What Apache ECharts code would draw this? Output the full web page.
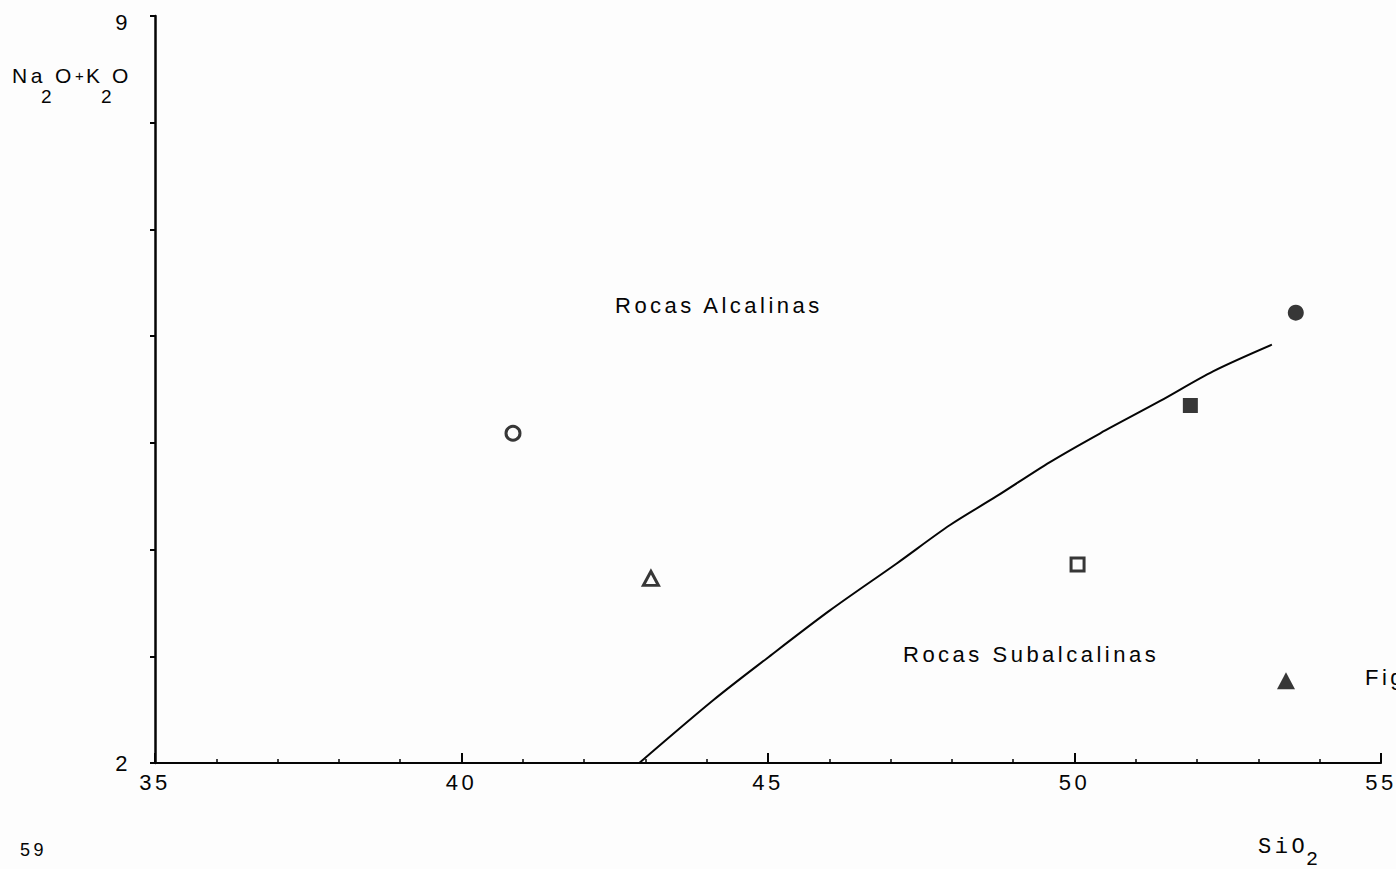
<!DOCTYPE html>
<html>
<head>
<meta charset="utf-8">
<script src="https://cdn.jsdelivr.net/npm/echarts@6/dist/echarts.min.js"></script>
<style>
  html, body { margin: 0; padding: 0; background: #fdfdfd; }
  #chart { width: 1396px; height: 869px; }
  /* wide plotter-style lettering */
  #chart svg text { letter-spacing: 3.5px; }
</style>
</head>
<body>
<div id="chart"></div>
<script>
// SiO2 (wt %) axis
const xMin = 35, xMax = 55, xMajorStep = 5;
// Na2O+K2O (wt %) axis; only the two ends are labelled
const yMin = 2, yMax = 9, yStep = 1;
const yLabelValues = [2, 9];

// Alkaline / subalkaline dividing curve
const curveSiO2 = [42.90, 44.11, 44.98, 46.01, 47.10, 47.97, 48.73, 49.60, 50.42, 51.39, 52.26, 53.22];
const curveAlk  = [2.00, 2.59, 2.98, 3.43, 3.87, 4.23, 4.50, 4.82, 5.09, 5.39, 5.67, 5.92];

// Analysed samples
const sampleSiO2 = [40.84, 43.09, 50.05, 51.89, 53.61, 53.45];
const sampleAlk  = [5.09, 3.73, 3.86, 5.35, 6.22, 2.77];

// Field names
const fieldLabels = ['Rocas Alcalinas', 'Rocas Subalcalinas'];

const INK = '#050505';
const BG = '#fdfdfd';
const SANS = "'Liberation Sans', Arial, sans-serif";
const MONO = "'Liberation Mono', 'DejaVu Sans Mono', monospace";

// one marker look per sample
const markerStyles = [
  { symbol: 'circle',   size: 14,       filled: false },
  { symbol: 'triangle', size: [15, 14], filled: false },
  { symbol: 'rect',     size: 13,       filled: false },
  { symbol: 'rect',     size: 15,       filled: true },
  { symbol: 'circle',   size: 16,       filled: true },
  { symbol: 'triangle', size: [18, 17], filled: true }
];

const chart = echarts.init(document.getElementById('chart'), null, { renderer: 'svg' });

const curveData = curveSiO2.map((x, i) => [x, curveAlk[i]]);

const sampleSeries = sampleSiO2.map((x, i) => {
  const m = markerStyles[i];
  return {
    type: 'scatter',
    name: 'M' + (i + 1),
    data: [[x, sampleAlk[i]]],
    symbol: m.symbol,
    symbolSize: m.size,
    z: 3,
    itemStyle: m.filled
      ? { color: INK, borderWidth: 0 }
      : { color: BG, borderColor: INK, borderWidth: 3 },
    emphasis: { disabled: true }
  };
});

function txt(text, left, y, size, family) {
  return {
    type: 'text', left: left, top: y - size / 2,
    style: { text: text, fill: INK, font: size + 'px ' + (family || SANS) }
  };
}

chart.setOption({
  backgroundColor: BG,
  animation: false,
  grid: { left: 155, right: 15, top: 16, bottom: 106, containLabel: false, outerBoundsMode: 'none' },
  xAxis: {
    type: 'value', min: xMin, max: xMax, interval: xMajorStep,
    axisLine: { lineStyle: { color: INK, width: 2.2 } },
    axisTick: { inside: true, length: 10, lineStyle: { color: INK, width: 2 } },
    minorTick: { show: true, splitNumber: 5, length: 4, lineStyle: { color: INK, width: 1.5 } },
    splitLine: { show: false },
    minorSplitLine: { show: false },
    axisLabel: { margin: 8, fontSize: 22, color: INK, fontFamily: SANS }
  },
  yAxis: {
    type: 'value', min: yMin, max: yMax, interval: yStep,
    axisLine: { lineStyle: { color: INK, width: 2.5 } },
    axisTick: { inside: false, length: 5, lineStyle: { color: INK, width: 2 } },
    splitLine: { show: false },
    axisLabel: {
      margin: 24, fontSize: 22, color: INK, fontFamily: SANS,
      formatter: v => {
        if (!yLabelValues.includes(v)) return '';
        return v === yMax ? '{hi|' + v + '}' : String(v);
      },
      rich: { hi: { fontSize: 22, color: INK, fontFamily: SANS, padding: [12, 0, 0, 0] } }
    }
  },
  series: [
    {
      type: 'line',
      data: curveData,
      smooth: 0.3,
      showSymbol: false,
      z: 2,
      lineStyle: { color: INK, width: 2 },
      emphasis: { disabled: true }
    }
  ].concat(sampleSeries),
  graphic: [
    // y axis title: Na2O+K2O
    txt('Na', 12, 75, 21),
    txt('2', 41, 96, 19),
    txt('O', 55, 75, 21),
    txt('+', 75, 75, 15),
    txt('K', 86, 75, 21),
    txt('2', 101, 96, 19),
    txt('O', 112, 75, 21),
    // x axis title: SiO2
    txt('SiO', 1258, 847, 22, MONO),
    txt('2', 1306, 859, 20, MONO),
    // field names
    txt(fieldLabels[0], 615, 305, 22),
    txt(fieldLabels[1], 903, 654, 22),
    // page furniture
    txt('Fig', 1365, 677, 22),
    txt('59', 20, 850, 18)
  ]
});
</script>
</body>
</html>
